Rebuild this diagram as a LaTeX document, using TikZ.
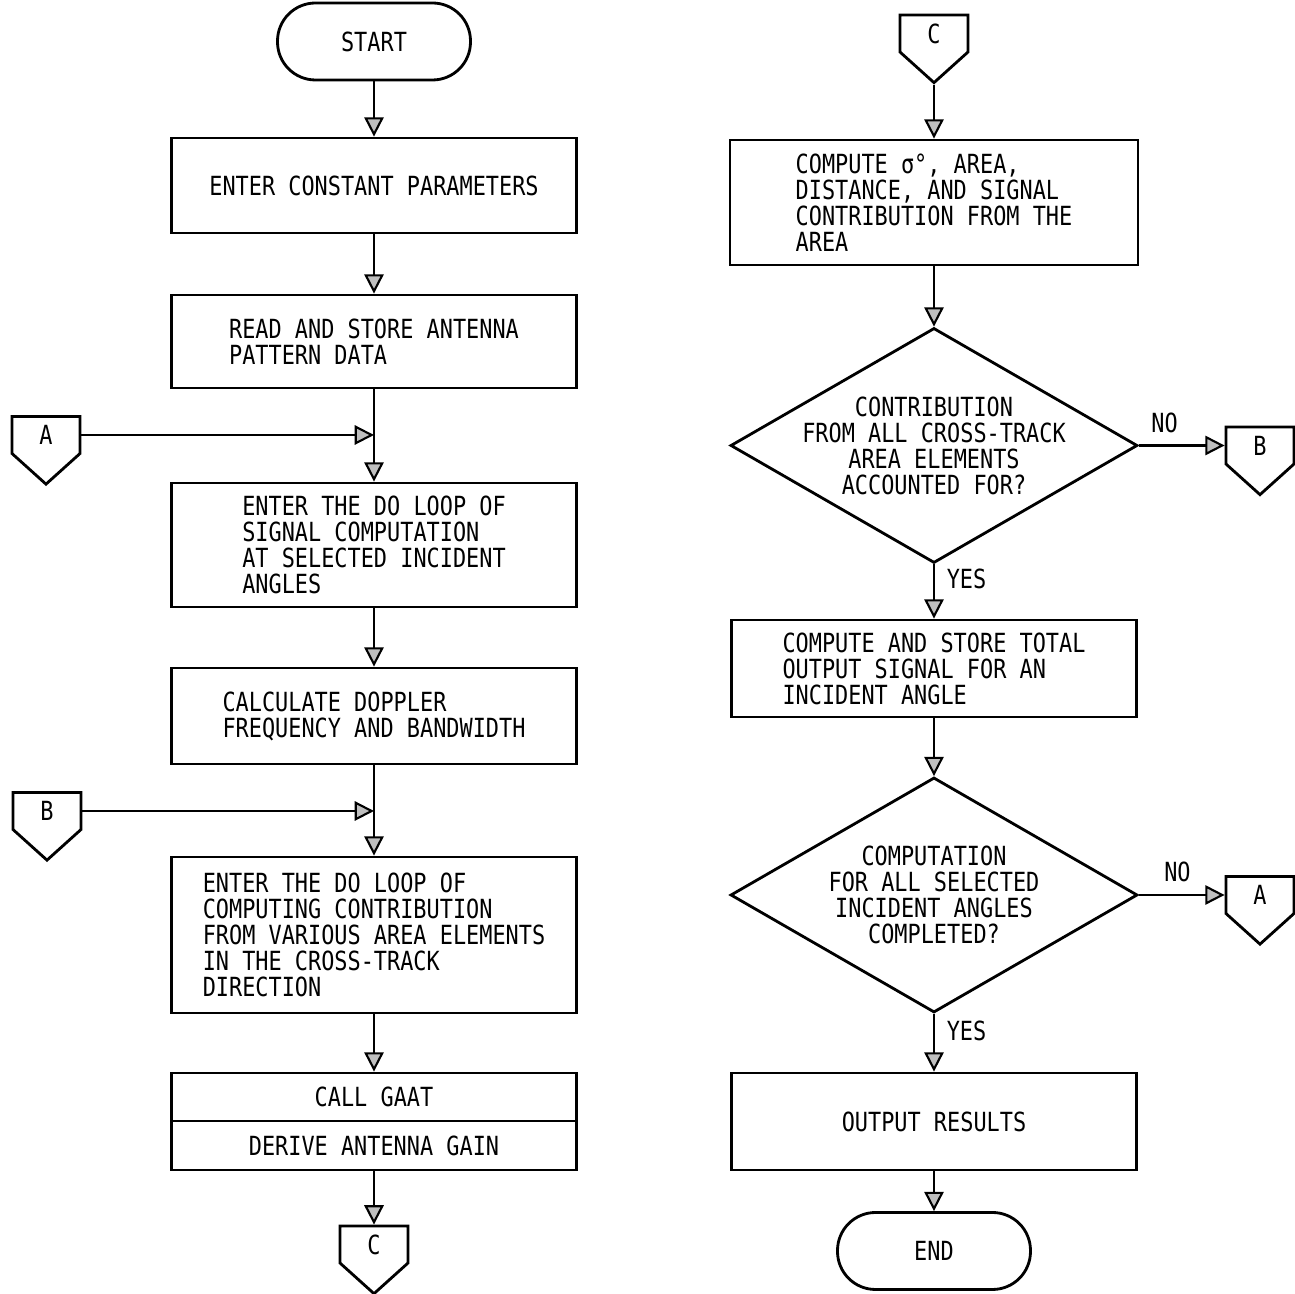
\documentclass[tikz,border=0pt]{standalone}
\usepackage{fontspec}
\newfontfamily\flowfont{DejaVu Sans Mono}[FakeStretch=0.83]
\usetikzlibrary{arrows.meta,shapes.geometric,shapes.symbols}

\tikzset{
  chart/.style={font=\flowfont\fontsize{7.5pt}{7.4pt}\selectfont},
  process/.style={draw, thick, minimum width=4.05cm, align=left, inner sep=0pt},
  terminal/.style={draw, thick, rounded corners=0.38cm, minimum width=1.93cm, minimum height=0.77cm},
  decision/.style={diamond, draw, thick, minimum width=4.07cm, minimum height=2.35cm, inner sep=0pt},
  conn/.style={signal, signal to=south, signal pointer angle=96, draw, thick, minimum width=0.68cm, minimum height=0.43cm, inner sep=0pt},
  flow/.style={semithick, -{Triangle[length=5.5pt,width=5.5pt,fill=gray!50]}}
}

\begin{document}
\begin{tikzpicture}[chart]
\useasboundingbox (0,0) rectangle (12.95,-12.94);

%LEFT COLUMN
\node[terminal] (start) at (3.74,-0.415) {START};
\node[process, minimum height=0.95cm] (const) at (3.74,-1.855) {ENTER CONSTANT PARAMETERS};
\node[process, minimum height=0.93cm] (pattern) at (3.74,-3.415) {READ AND STORE ANTENNA\\PATTERN DATA};
\node[process, minimum height=1.24cm] (angleloop) at (3.74,-5.45) {ENTER THE DO LOOP OF\\SIGNAL COMPUTATION\\AT SELECTED INCIDENT\\ANGLES};
\node[process, minimum height=0.96cm] (doppler) at (3.74,-7.16) {CALCULATE DOPPLER\\FREQUENCY AND BANDWIDTH};
\node[process, minimum height=1.56cm] (arealoop) at (3.74,-9.35) {ENTER THE DO LOOP OF\\COMPUTING CONTRIBUTION\\FROM VARIOUS AREA ELEMENTS\\IN THE CROSS-TRACK\\DIRECTION};
\node[process, minimum height=0.48cm] (gaat) at (3.74,-10.97) {CALL GAAT};
\node[process, minimum height=0.49cm] (gain) at (3.74,-11.455) {DERIVE ANTENNA GAIN};
%connectors
\node[conn] (inA) at (0.46,-4.35) {A};
\node[conn] (inB) at (0.47,-8.11) {B};
\node[conn] (outC) at (3.74,-12.445) {C};

%RIGHT COLUMN
\node[conn] (inC) at (9.34,-0.335) {C};
\node[process, minimum width=4.08cm, minimum height=1.25cm] (sigma) at (9.34,-2.025) {COMPUTE σ°, AREA,\\DISTANCE, AND SIGNAL\\CONTRIBUTION FROM THE\\AREA};
\node[decision, label={[align=center]center:{CONTRIBUTION\\FROM ALL CROSS-TRACK\\AREA ELEMENTS\\ACCOUNTED FOR?}}] (allarea) at (9.34,-4.455) {};
\node[process, minimum height=0.97cm] (total) at (9.34,-6.685) {COMPUTE AND STORE TOTAL\\OUTPUT SIGNAL FOR AN\\INCIDENT ANGLE};
\node[decision, label={[align=center]center:{COMPUTATION\\FOR ALL SELECTED\\INCIDENT ANGLES\\COMPLETED?}}] (allangle) at (9.34,-8.95) {};
\node[process, minimum height=0.97cm] (results) at (9.34,-11.215) {OUTPUT RESULTS};
\node[terminal] (end) at (9.34,-12.51) {END};
%connectors
\node[conn] (outB) at (12.60,-4.455) {B};
\node[conn] (outA) at (12.60,-8.95) {A};

%ARROWS
% left column
\draw[flow] (start.south) -- (const.north);
\draw[flow] (const.south) -- (pattern.north);
\draw[flow] (pattern.south) -- (angleloop.north);
\draw[flow] (inA.east) -- (inA.east -| pattern.south);
\draw[flow] (angleloop.south) -- (doppler.north);
\draw[flow] (doppler.south) -- (arealoop.north);
\draw[flow] (inB.east) -- (inB.east -| doppler.south);
\draw[flow] (arealoop.south) -- (gaat.north);
\draw[flow] (gain.south) -- (outC.north);
% right column
\draw[flow] (inC.south) -- (sigma.north);
\draw[flow] (sigma.south) -- (allarea.north);
\draw[flow] (allarea.south) -- node[pos=0.27, right] {YES} (total.north);
\draw[flow] (allarea.east) -- node[pos=0.3, above] {NO} (outB.west);
\draw[flow] (total.south) -- (allangle.north);
\draw[flow] (allangle.south) -- node[pos=0.3, right] {YES} (results.north);
\draw[flow] (allangle.east) -- node[pos=0.45, above] {NO} (outA.west);
\draw[flow] (results.south) -- (end.north);

\end{tikzpicture}
\end{document}
